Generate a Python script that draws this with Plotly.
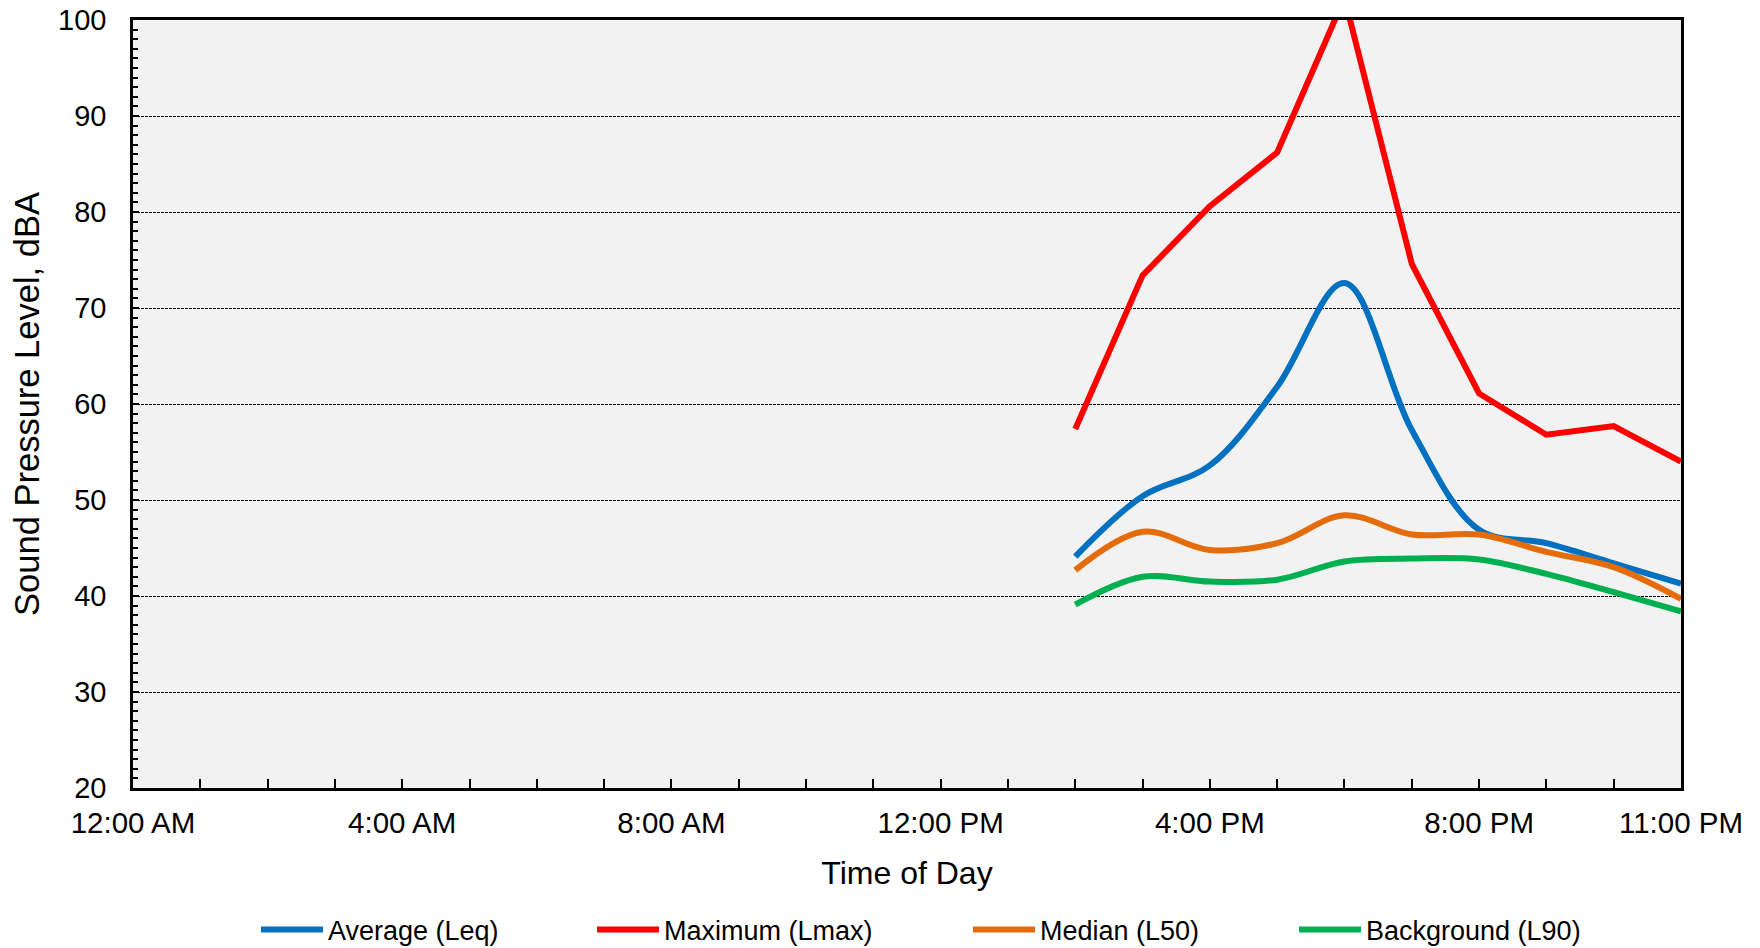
import plotly.graph_objects as go

hours = [14, 15, 16, 17, 18, 19, 20, 21, 22, 23]
leq = [44.1, 50.4, 53.6, 61.8, 72.6, 57.3, 46.9, 45.5, 43.4, 41.3]
lmax = [57.4, 73.4, 80.6, 86.2, 102.3, 74.6, 61.1, 56.8, 57.7, 54.0]
l50 = [42.7, 46.7, 44.8, 45.5, 48.4, 46.4, 46.4, 44.6, 43.0, 39.7]
l90 = [39.1, 42.0, 41.5, 41.7, 43.6, 43.9, 43.8, 42.3, 40.4, 38.4]

tick_vals = [0, 4, 8, 12, 16, 20, 23]
tick_text = ["12:00 AM", "4:00 AM", "8:00 AM", "12:00 PM", "4:00 PM", "8:00 PM", "11:00 PM"]

names = ["Average (Leq)", "Maximum (Lmax)", "Median (L50)", "Background (L90)"]
colors = ["#0070C0", "#FF0000", "#E46C0A", "#00B050"]
series = [leq, lmax, l50, l90]
shapes = ["spline", "linear", "spline", "spline"]
legends = ["legend", "legend2", "legend3", "legend4"]

FONT = "Liberation Sans, Arial, sans-serif"

fig = go.Figure()
for nm, col, ys, shp, lg in zip(names, colors, series, shapes, legends):
    fig.add_trace(go.Scatter(
        x=hours, y=ys, name=nm, mode="lines",
        line=dict(color=col, width=6, shape=shp, smoothing=1.0),
        legend=lg,
    ))

# page body has an 8px margin, so the figure is 8px smaller and shifted
OFF = 8
W, H = 1760 - OFF, 948 - OFF
L, T = 133 - OFF, 20 - OFF
pw, ph = 1548, 768
R = W - L - pw
B = H - T - ph

leg_starts = [262, 598, 974, 1300]
leg_y_center = 930 - OFF
leg_common = dict(orientation="h", yanchor="middle", y=-(leg_y_center - (T + ph)) / ph,
                  xanchor="left",
                  font=dict(family=FONT, size=27, color="black"),
                  bgcolor="rgba(0,0,0,0)", itemwidth=62)
layout_legs = {}
for lg, xs in zip(legends, leg_starts):
    layout_legs[lg] = dict(leg_common, x=(xs - OFF - L - 6) / pw)

fig.update_layout(
    width=W, height=H,
    margin=dict(l=L, r=R, t=T, b=B, autoexpand=False),
    paper_bgcolor="white", plot_bgcolor="#F2F2F2",
    font=dict(family=FONT, size=29, color="black"),
    showlegend=True,
    **layout_legs,
)

fig.update_xaxes(
    range=[0, 23], tickvals=tick_vals, ticktext=tick_text,
    ticks="inside", ticklen=9, tickwidth=1.5, tickcolor="black",
    minor=dict(dtick=1, ticks="inside", ticklen=9, tickwidth=1.5, tickcolor="black", showgrid=False),
    showgrid=False, zeroline=False, automargin=False, ticklabeloverflow="allow",
    showline=True, linecolor="black", linewidth=2.5, mirror=True,
    tickfont=dict(family=FONT, size=29.5, color="black"),
    ticklabelstandoff=7,
    title=dict(text="Time of Day", font=dict(family=FONT, size=32, color="black"), standoff=24),
)
fig.update_yaxes(
    range=[20, 100], dtick=10, tick0=20,
    ticks="inside", ticklen=6, tickwidth=1.5, tickcolor="black",
    minor=dict(dtick=1, ticks="inside", ticklen=5, tickwidth=1.5, tickcolor="black", showgrid=False),
    showgrid=True, gridcolor="#000000", gridwidth=1.2, griddash="3px,1px",
    zeroline=False, automargin=False, ticklabeloverflow="allow",
    showline=True, linecolor="black", linewidth=2.5, mirror=True,
    tickfont=dict(family=FONT, size=29, color="black"),
    ticklabelstandoff=18,
    title=dict(text="Sound Pressure Level, dBA", font=dict(family=FONT, size=34.5, color="black"), standoff=10),
)

fig.write_html("out.html")
